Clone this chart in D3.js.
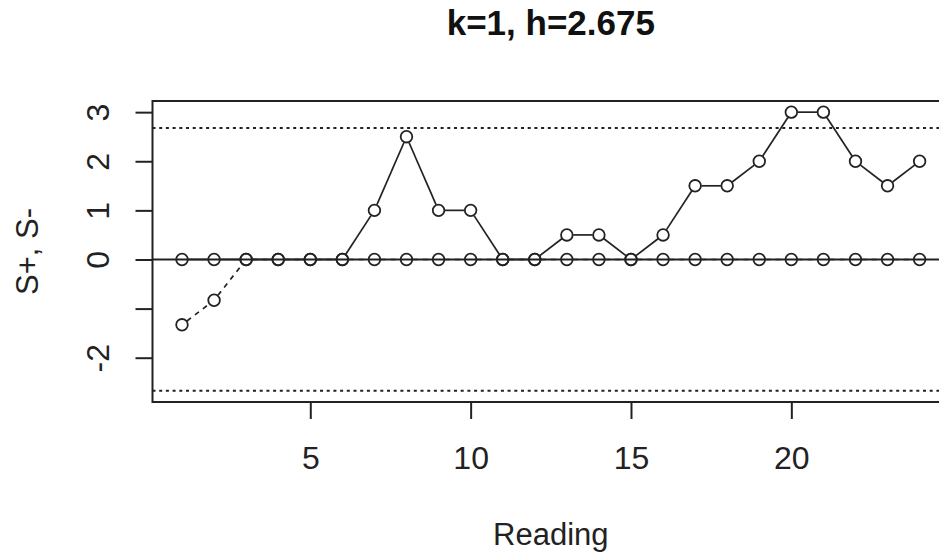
<!DOCTYPE html>
<html>
<head>
<meta charset="utf-8">
<script src="https://cdn.jsdelivr.net/npm/d3@7"></script>
<style>
  body { margin: 0; background: #fff; }
  svg { display: block; font-family: "Liberation Sans", Arial, sans-serif; }
  .axis path, .axis line { stroke: #222; stroke-width: 2; }
  .axis text { fill: #222; font-size: 32px; }
</style>
</head>
<body>
<div id="cusum-chart"></div>
<script>
// Global vars
var readings = d3.range(1, 25);
var sPlus = [0, 0, 0, 0, 0, 0, 1, 2.5, 1, 1, 0, 0, 0.5, 0.5, 0, 0.5, 1.5, 1.5, 2, 3, 3, 2, 1.5, 2];
var sMinus = [-1.33, -0.83, 0, 0, 0, 0, 0, 0, 0, 0, 0, 0, 0, 0, 0, 0, 0, 0, 0, 0, 0, 0, 0, 0];
var xTicks = [5, 10, 15, 20];
var yTicks = [-2, -1, 0, 1, 2, 3];
var yTickLabels = ["-2", "", "0", "1", "2", "3"];
var hLimit = 2.675;
var titleText = "k=1, h=2.675";

var margins = { left: 152.5, top: 101, bottom: 150 };
var width = 939, height = 552;
var ink = "#222";
var radius = 5.8;

var svg = d3.select("#cusum-chart")
  .append("svg")
  .attr("width", width)
  .attr("height", height);

// R-style 4% padding on both axes
var xDomain = [1 - 0.04 * 23, 24 + 0.04 * 23];
var yLo = -hLimit, yHi = 3;
var yPad = (yHi - yLo) * 0.04;

var xScale = d3.scaleLinear()
  .domain(xDomain)
  .range([margins.left, margins.left + (xDomain[1] - xDomain[0]) * 32.07]);

var yScale = d3.scaleLinear()
  .domain([yLo - yPad, yHi + yPad])
  .range([height - margins.bottom, margins.top]);

var plotBottom = yScale.range()[0];
var plotTop = yScale.range()[1];
var plotLeft = xScale.range()[0];
var plotRight = xScale.range()[1];

// Axes
var xAxis = svg.append("g")
  .attr("class", "x axis")
  .attr("transform", "translate(0," + plotBottom + ")")
  .call(d3.axisBottom(xScale).tickValues(xTicks).tickSize(17).tickSizeOuter(0));
xAxis.select(".domain").remove();
xAxis.selectAll("text").attr("y", 67).attr("dy", 0);

var yAxis = svg.append("g")
  .attr("class", "y axis")
  .attr("transform", "translate(" + plotLeft + ",0)")
  .call(d3.axisLeft(yScale).tickValues(yTicks).tickSize(17).tickSizeOuter(0)
    .tickFormat(function(d, i) { return yTickLabels[i]; }));
yAxis.select(".domain").remove();
yAxis.selectAll("text")
  .attr("x", 0).attr("dy", 0)
  .attr("text-anchor", "middle")
  .attr("transform", "translate(-44,0) rotate(-90)");

// Plot box
svg.append("rect")
  .attr("x", plotLeft)
  .attr("y", plotTop)
  .attr("width", plotRight - plotLeft)
  .attr("height", plotBottom - plotTop)
  .attr("fill", "none")
  .attr("stroke", ink)
  .attr("stroke-width", 2);

// Reference lines
svg.append("line")
  .attr("x1", plotLeft).attr("x2", plotRight)
  .attr("y1", yScale(0)).attr("y2", yScale(0))
  .attr("stroke", ink).attr("stroke-width", 2);

[hLimit, -hLimit].forEach(function(v) {
  svg.append("line")
    .attr("x1", plotLeft).attr("x2", plotRight)
    .attr("y1", yScale(v)).attr("y2", yScale(v))
    .attr("stroke", ink).attr("stroke-width", 2)
    .attr("stroke-dasharray", "3,3.7");
});

// type="b" style series: segments stop short of the circles
var drawSeries = function(values, dash) {
  var pts = values.map(function(v, i) {
    return [xScale(readings[i]), yScale(v)];
  });
  var g = svg.append("g");
  for (var i = 0; i < pts.length - 1; i++) {
    var a = pts[i], b = pts[i + 1];
    var dx = b[0] - a[0], dy = b[1] - a[1];
    var len = Math.sqrt(dx * dx + dy * dy);
    var gap = radius + 0.5;
    if (len <= 2 * gap) continue;
    var ux = dx / len, uy = dy / len;
    g.append("line")
      .attr("x1", a[0] + ux * gap).attr("y1", a[1] + uy * gap)
      .attr("x2", b[0] - ux * gap).attr("y2", b[1] - uy * gap)
      .attr("stroke", ink).attr("stroke-width", 1.7)
      .attr("stroke-dasharray", dash);
  }
  g.selectAll("circle")
    .data(pts)
    .enter()
    .append("circle")
    .attr("cx", function(d) { return d[0]; })
    .attr("cy", function(d) { return d[1]; })
    .attr("r", radius)
    .attr("fill", "none")
    .attr("stroke", ink)
    .attr("stroke-width", 1.8);
};

drawSeries(sMinus, "5,5");
drawSeries(sPlus, null);

// Titles
var centerX = xScale((xDomain[0] + xDomain[1]) / 2);

svg.append("text")
  .attr("x", centerX)
  .attr("y", 35)
  .attr("text-anchor", "middle")
  .attr("font-size", "35px")
  .attr("font-weight", "bold")
  .attr("fill", "#111")
  .text(titleText);

svg.append("text")
  .attr("x", centerX)
  .attr("y", 545)
  .attr("text-anchor", "middle")
  .attr("font-size", "31px")
  .attr("fill", ink)
  .text("Reading");

svg.append("text")
  .attr("transform", "translate(37.5," + (plotTop + plotBottom) / 2 + ") rotate(-90)")
  .attr("text-anchor", "middle")
  .attr("font-size", "31px")
  .attr("fill", ink)
  .text("S+, S-");
</script>
</body>
</html>
